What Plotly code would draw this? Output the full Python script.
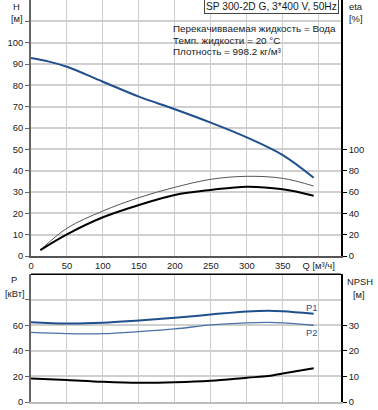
import plotly.graph_objects as go

# ---- data ----
q_h = [0, 25, 50, 100, 150, 200, 250, 300, 350, 393]
h_vals = [92.8, 91.1, 88.7, 81.7, 74.7, 68.8, 62.5, 55.6, 47.3, 36.7]

q_eta = [13, 50, 100, 150, 200, 250, 300, 350, 393]
eta_thin = [5.6, 26.0, 42.2, 54.7, 64.4, 71.9, 74.7, 72.8, 65.6]
eta_thick = [5.6, 20.3, 36.3, 47.8, 57.2, 61.9, 65.0, 62.5, 56.5]

q_p = [0, 50, 100, 150, 200, 250, 300, 330, 350, 393]
p1_vals = [62.4, 61.4, 62.0, 63.8, 65.9, 68.5, 70.9, 71.5, 71.1, 69.1]
p2_vals = [54.5, 53.5, 53.5, 55.1, 57.2, 60.4, 62.0, 62.3, 62.0, 60.1]
npsh_vals = [9.25, 8.6, 7.9, 7.5, 7.7, 8.3, 9.5, 10.2, 11.2, 13.2]

x_ticks = [0, 50, 100, 150, 200, 250, 300, 350, 400]
x_ticktext = ["0", "50", "100", "150", "200", "250", "300", "350", "Q [м³/ч]"]
h_ticks = list(range(0, 101, 10))
eta_ticks = [0, 20, 40, 60, 80, 100]
p_ticks = [0, 20, 40, 60]
npsh_ticks = [0, 10, 20, 30]

title_text = "SP 300-2D G, 3*400 V, 50Hz"
info_lines = ["Перекачивваемая жидкость = Вода",
              "Темп. жидкости = 20 °C",
              "Плотность = 998.2 кг/м³"]

# ---- layout geometry ----
W, H = 378, 410
ML, MR, MT, MB = 31, 37, 0, 8
PW = W - ML - MR
PH = H - MT - MB
def py(pix):  # pixel from top -> paper y
    return (PH - (pix - MT)) / PH
def px(pix):
    return (pix - ML) / PW

top_dom = [py(256), 1.0]
bot_dom = [0.0, py(274.3)]

FONT = "Liberation Sans, Arial, sans-serif"
FS = 9.4
TXT = "#1a1a1a"
BLUE = "#1f4f8f"
BLUE2 = "#4a72a8"
GRID = "#cfcfcf"

fig = go.Figure()
fig.add_trace(go.Scatter(x=q_h, y=h_vals, mode="lines", line=dict(color=BLUE, width=2, shape="spline"),
                         xaxis="x", yaxis="y"))
fig.add_trace(go.Scatter(x=q_eta, y=eta_thin, mode="lines", line=dict(color="#555555", width=1, shape="spline"),
                         xaxis="x", yaxis="y2"))
fig.add_trace(go.Scatter(x=q_eta, y=eta_thick, mode="lines", line=dict(color="#000000", width=2, shape="spline"),
                         xaxis="x", yaxis="y2"))
fig.add_trace(go.Scatter(x=q_p, y=p1_vals, mode="lines", line=dict(color=BLUE, width=2, shape="spline"),
                         xaxis="x2", yaxis="y3"))
fig.add_trace(go.Scatter(x=q_p, y=p2_vals, mode="lines", line=dict(color=BLUE2, width=1.3, shape="spline"),
                         xaxis="x2", yaxis="y3"))
fig.add_trace(go.Scatter(x=q_p, y=npsh_vals, mode="lines", line=dict(color="#000000", width=2, shape="spline"),
                         xaxis="x2", yaxis="y4"))

tickfont = dict(family=FONT, size=FS, color=TXT)
xr = [0, 431]

fig.update_layout(
    width=W, height=H, margin=dict(l=ML, r=MR, t=MT, b=MB, pad=0),
    paper_bgcolor="white", plot_bgcolor="white", showlegend=False,
    font=dict(family=FONT, size=FS, color=TXT),
    xaxis=dict(domain=[0, 1], range=xr, anchor="y", tickvals=x_ticks, ticktext=x_ticktext,
               showgrid=True, gridcolor=GRID, gridwidth=1, zeroline=False,
               showline=True, linecolor="#555555", linewidth=1.5, ticks="", tickfont=tickfont),
    yaxis=dict(domain=top_dom, range=[0, 120], tickvals=h_ticks + [110],
               ticktext=[str(v) for v in h_ticks] + [""],
               showgrid=True, gridcolor=GRID, gridwidth=1.5, zeroline=False,
               showline=True, linecolor="#666666", linewidth=2, ticks="outside", ticklen=4,
               tickcolor="#666666", tickfont=tickfont),
    yaxis2=dict(overlaying="y", side="right", range=[0, 240], tickvals=eta_ticks, showgrid=False,
                zeroline=False, showline=True, linecolor="#000000", linewidth=1.5, ticks="outside",
                ticklen=4, tickcolor="#000000", tickfont=tickfont, anchor="x"),
    xaxis2=dict(domain=[0, 1], range=xr, anchor="y3", tickvals=x_ticks, showticklabels=False,
                showgrid=True, gridcolor=GRID, gridwidth=1, zeroline=False,
                showline=True, linecolor="#bdbdbd", linewidth=2, ticks=""),
    yaxis3=dict(domain=bot_dom, range=[0, 100], tickvals=p_ticks + [80],
                ticktext=[str(v) for v in p_ticks] + [""],
                showgrid=True, gridcolor=GRID, gridwidth=1.5, zeroline=False,
                showline=True, linecolor="#666666", linewidth=2, ticks="outside", ticklen=4,
                tickcolor="#666666", tickfont=tickfont, anchor="x2"),
    yaxis4=dict(overlaying="y3", side="right", range=[0, 50], tickvals=npsh_ticks, showgrid=False,
                zeroline=False, showline=True, linecolor="#000000", linewidth=1.5, ticks="outside",
                ticklen=4, tickcolor="#000000", tickfont=tickfont, anchor="x2"),
)

shapes = [
    dict(type="line", xref="paper", yref="paper", x0=0, x1=1, y0=bot_dom[1], y1=bot_dom[1],
         line=dict(color="#000000", width=1.5), layer="above"),
    dict(type="rect", xref="paper", yref="paper", x0=px(168), x1=px(339), y0=py(58), y1=py(20),
         fillcolor="white", line=dict(width=0), layer="between"),
]
fig.update_layout(shapes=shapes)

ann = []
def add(text, xp, yp, xanchor="center", color=TXT, size=FS, **kw):
    ann.append(dict(text=text, xref="paper", yref="paper", x=px(xp), y=py(yp), xanchor=xanchor,
                    yanchor="middle", showarrow=False, font=dict(family=FONT, size=size, color=color), **kw))

add("H", 16.7, 7)
add("[м]", 17.3, 19)
add("eta", 346.7, 7, xanchor="left")
add("[%]", 346.7, 19, xanchor="left")
add("P", 14.3, 279)
add("[кВт]", 14.7, 293)
add("NPSH", 345, 281, xanchor="left")
add("[м]", 359, 294)
add("P1", 311, 307.5, color=BLUE)
add("P2", 311.7, 332.5, color=BLUE)
add(title_text, 339, 6.7, xanchor="right", size=10.2, bgcolor="white", bordercolor="#444444",
    borderwidth=1, borderpad=1)
for i, line in enumerate(info_lines):
    add(line, 170.7, [28.3, 40.5, 51.7][i], xanchor="left", size=9.9)
fig.update_layout(annotations=ann)

fig.write_html("out.html", config={"displayModeBar": False},
               post_script="document.body.style.margin='0';document.body.style.padding='0';")
